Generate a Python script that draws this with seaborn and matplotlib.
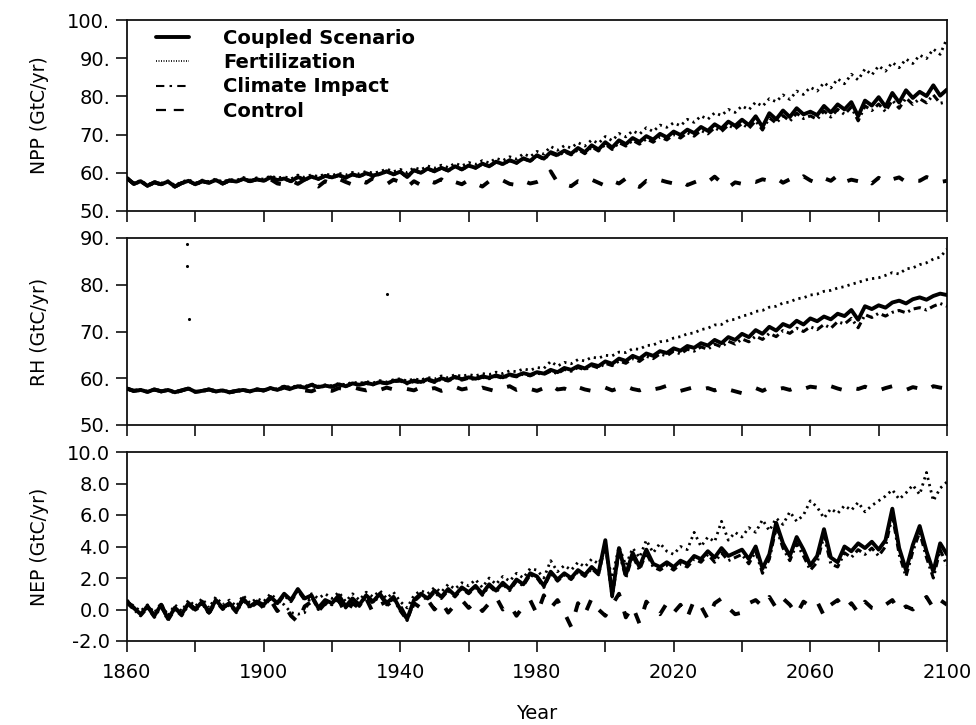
import matplotlib
matplotlib.use("Agg")
import matplotlib.pyplot as plt
from matplotlib.lines import Line2D
import pandas as pd
import seaborn as sns

years = list(range(1860, 2101, 2))

# ---------------- NPP (GtC/yr) ----------------
npp_coupled = [
    58.6, 57.1, 57.8, 56.6, 57.5, 57.0, 57.7, 56.4, 57.3, 57.9,
    57.0, 57.8, 57.4, 58.1, 57.2, 58.0, 57.7, 58.4, 57.8, 58.3,
    57.9, 58.8, 58.1, 58.5, 57.8, 58.9, 58.2, 59.0, 58.4, 59.2,
    58.8, 59.4, 58.7, 59.6, 59.1, 59.9, 59.3, 59.7, 60.4, 59.6,
    60.3, 58.9, 60.7, 60.0, 61.1, 60.4, 61.3, 60.6, 61.7, 60.9,
    61.9, 61.3, 62.4, 61.7, 62.9, 62.3, 63.3, 62.6, 63.8, 63.1,
    64.6, 63.7, 65.4, 64.7, 65.8, 65.0, 66.5, 65.4, 67.2, 66.1,
    68.0, 66.6, 68.5, 67.5, 69.1, 68.1, 69.6, 68.7, 70.2, 69.3,
    70.8, 69.9, 71.3, 70.4, 72.0, 71.0, 72.7, 71.6, 73.4, 72.3,
    73.9, 72.5, 74.8, 72.0, 75.6, 74.0, 76.3, 74.6, 76.9, 75.3,
    76.0, 75.1, 77.5, 75.8, 77.9, 76.6, 78.5, 74.8, 78.9, 77.6,
    79.8, 77.3, 80.9, 78.4, 81.6, 79.6, 81.2, 80.1, 82.9, 80.2,
    81.8]
npp_fert = [
    58.7, 57.3, 58.0, 56.8, 57.7, 57.3, 57.9, 56.7, 57.6, 58.2,
    57.3, 58.1, 57.7, 58.4, 57.6, 58.3, 58.0, 58.8, 58.1, 58.7,
    58.3, 59.2, 58.6, 59.0, 58.4, 59.4, 58.8, 59.5, 59.0, 59.7,
    59.3, 59.9, 59.4, 60.1, 59.7, 60.4, 59.9, 60.3, 61.0, 60.3,
    60.9, 60.0, 61.4, 60.8, 61.8, 61.2, 62.0, 61.4, 62.5, 61.8,
    62.7, 62.2, 63.2, 62.6, 63.8, 63.2, 64.2, 63.6, 65.0, 64.2,
    65.6, 64.9, 66.9, 65.9, 67.1, 66.5, 67.9, 67.0, 68.6, 67.7,
    69.5, 68.4, 70.3, 69.4, 71.0, 70.1, 71.8, 70.8, 72.5, 71.9,
    73.1, 72.3, 74.0, 73.2, 74.9, 74.0, 75.7, 75.0, 76.6, 75.8,
    77.5, 76.5, 78.5, 77.4, 79.4, 78.6, 80.4, 79.2, 81.4, 80.5,
    82.4, 81.4, 83.6, 82.2, 84.6, 83.3, 85.8, 84.3, 87.2, 85.6,
    88.0, 86.6, 88.9, 87.5, 89.8, 88.6, 90.8, 89.9, 92.4, 91.0,
    95.2]
npp_climate = [
    58.5, 57.0, 57.7, 56.5, 57.4, 56.9, 57.6, 56.3, 57.2, 57.8,
    56.9, 57.7, 57.3, 58.0, 57.1, 57.9, 57.6, 58.3, 57.7, 58.2,
    57.8, 58.7, 58.0, 58.4, 57.7, 58.8, 58.1, 58.9, 58.3, 59.1,
    58.7, 59.3, 58.6, 59.5, 59.0, 59.8, 59.2, 59.6, 60.3, 59.5,
    60.2, 58.8, 60.6, 59.9, 61.0, 60.3, 61.2, 60.5, 61.6, 60.8,
    61.8, 61.2, 62.3, 61.6, 62.8, 62.2, 63.2, 62.5, 63.7, 63.0,
    64.4, 63.5, 65.1, 64.4, 65.5, 64.7, 66.1, 65.0, 66.8, 65.7,
    67.5, 66.1, 67.9, 67.0, 68.5, 67.5, 68.9, 68.0, 69.4, 68.6,
    70.0, 69.1, 70.5, 69.6, 71.1, 70.2, 71.8, 70.8, 72.5, 71.5,
    72.9, 71.6, 73.6, 71.2, 74.4, 73.0, 75.0, 73.5, 75.6, 74.2,
    74.9, 74.0, 76.2, 74.6, 76.6, 75.3, 77.2, 73.6, 77.5, 76.3,
    78.0, 76.0, 79.0, 76.9, 79.6, 77.9, 79.4, 78.3, 80.4, 78.2,
    78.6]
npp_control = [
    58.6, 57.1, 57.8, 56.6, 57.5, 57.0, 57.7, 56.4, 57.3, 57.9,
    57.0, 57.8, 57.4, 58.1, 57.2, 58.0, 57.7, 58.4, 57.8, 58.3,
    57.5, 58.3, 57.2, 56.9, 58.0, 57.1, 58.2, 57.3, 56.4, 57.8,
    57.2, 58.4, 57.6, 56.9, 58.0, 57.4, 58.6, 57.5, 57.0, 58.2,
    57.6, 56.3, 57.8, 56.8, 58.0, 57.4, 58.3, 56.9, 57.6, 57.0,
    58.1, 57.2, 56.4, 57.8, 57.3, 58.0, 57.1, 56.8, 57.9, 57.2,
    57.6, 58.4, 60.4, 57.5, 57.0, 56.5, 57.8, 57.3, 58.2, 57.4,
    56.6, 57.9, 57.2, 58.5, 57.0, 56.3, 57.9, 57.4, 58.1, 57.6,
    57.2, 57.9, 56.8, 57.5, 58.2, 57.6, 59.0, 57.4, 56.2, 57.5,
    57.1, 58.0, 57.6, 58.3, 57.9, 58.6, 57.4, 58.3, 57.8, 59.1,
    58.0, 57.3, 58.6, 57.9, 59.3, 57.6, 58.2, 57.8, 58.5, 57.2,
    58.7, 57.5, 58.3, 58.8, 57.6, 58.0, 57.9, 58.9, 58.2, 57.6,
    57.9]

# ---------------- RH (GtC/yr) ----------------
rh_coupled = [
    57.8, 57.3, 57.5, 57.1, 57.6, 57.2, 57.5, 57.0, 57.4, 57.8,
    57.1, 57.3, 57.6, 57.2, 57.4, 57.0, 57.3, 57.5, 57.2, 57.6,
    57.4, 57.9, 57.5, 58.2, 57.8, 58.3, 58.0, 58.6, 58.1, 58.4,
    58.2, 58.7, 58.3, 58.9, 58.6, 59.0, 58.7, 59.2, 58.9, 59.4,
    59.6, 59.0, 59.5, 59.2, 59.8, 59.3, 60.0, 59.6, 60.3, 59.8,
    60.2, 59.9, 60.4, 60.1, 60.6, 60.2, 60.8, 60.5, 61.1, 60.7,
    61.3, 61.0, 61.8, 61.3, 62.2, 61.8, 62.6, 62.1, 63.0, 62.6,
    63.6, 63.1, 64.2, 63.7, 64.8, 64.2, 65.3, 64.8, 65.8, 65.4,
    66.4, 65.9, 66.9, 66.5, 67.5, 67.0, 68.2, 67.5, 68.8, 68.2,
    69.5, 68.8, 70.3, 69.5, 71.0, 70.2, 71.6, 71.0, 72.3, 71.5,
    72.8, 72.2, 73.2, 72.6, 73.8, 73.3, 74.6, 72.5, 75.4, 74.8,
    75.6, 75.1, 76.2, 76.6, 76.0, 76.9, 77.3, 76.8, 77.6, 78.1,
    77.8]
rh_fert = [
    57.9, 57.4, 57.6, 57.2, 57.7, 57.3, 57.6, 57.1, 57.5, 57.9,
    57.2, 57.4, 57.7, 57.3, 57.5, 57.1, 57.4, 57.6, 57.3, 57.7,
    57.5, 58.0, 57.7, 58.4, 58.0, 58.5, 58.2, 58.8, 58.3, 58.6,
    58.4, 58.9, 58.6, 59.2, 58.9, 59.3, 59.0, 59.5, 59.2, 59.7,
    59.9, 59.4, 59.9, 59.6, 60.2, 59.8, 60.5, 60.1, 60.8, 60.4,
    60.8, 60.5, 61.0, 60.8, 61.3, 61.0, 61.6, 61.4, 62.0, 61.7,
    62.3, 62.1, 63.6, 62.6, 63.4, 63.1, 64.0, 63.7, 64.5, 64.3,
    64.9, 64.8, 65.6, 65.5, 66.3, 66.2, 67.0, 67.1, 67.8, 68.0,
    68.6, 68.9, 69.5, 69.7, 70.4, 70.7, 71.4, 71.5, 72.4, 72.6,
    73.3, 73.6, 74.3, 74.5, 75.2, 75.4, 76.1, 76.3, 77.0, 77.2,
    77.8, 78.0, 78.6, 78.8, 79.3, 79.6, 80.1, 80.5, 81.0, 81.3,
    81.5, 82.0, 82.6, 82.3, 83.4, 83.6, 84.3, 84.7, 85.5, 85.9,
    87.6]
rh_climate = [
    57.7, 57.2, 57.4, 57.0, 57.5, 57.1, 57.4, 56.9, 57.3, 57.7,
    57.0, 57.2, 57.5, 57.1, 57.3, 56.9, 57.2, 57.4, 57.1, 57.5,
    57.3, 57.8, 57.4, 58.1, 57.7, 58.2, 57.9, 58.5, 58.0, 58.3,
    58.1, 58.6, 58.2, 58.8, 58.5, 58.9, 58.6, 59.1, 58.8, 59.3,
    59.4, 58.8, 59.3, 59.0, 59.6, 59.1, 59.8, 59.4, 60.1, 59.6,
    60.0, 59.7, 60.2, 59.9, 60.4, 60.0, 60.6, 60.3, 60.9, 60.5,
    61.1, 60.8, 61.5, 61.0, 61.9, 61.5, 62.3, 61.8, 62.7, 62.2,
    63.2, 62.7, 63.7, 63.2, 64.2, 63.6, 64.7, 64.2, 65.2, 64.8,
    65.8, 65.2, 66.2, 65.8, 66.7, 66.2, 67.3, 66.7, 67.9, 67.3,
    68.4, 67.8, 69.0, 68.3, 69.6, 68.9, 70.2, 69.6, 70.7, 70.0,
    71.0, 70.4, 71.5, 70.7, 72.1, 71.6, 72.8, 70.8, 73.6, 73.0,
    73.9, 73.3, 74.1, 74.5, 74.0, 74.8, 75.1, 74.6, 75.4, 76.0,
    75.4]
rh_control = [
    57.8, 57.3, 57.5, 57.1, 57.6, 57.2, 57.5, 57.0, 57.4, 57.8,
    57.1, 57.3, 57.6, 57.2, 57.4, 57.0, 57.3, 57.5, 57.2, 57.6,
    57.4, 57.9, 57.5, 58.0, 57.6, 56.9, 57.4, 57.2, 57.8, 57.5,
    57.3, 57.9, 57.6, 58.1, 57.7, 57.4, 57.9, 57.5, 58.0, 57.6,
    58.0, 57.7, 57.4, 58.1, 57.6, 57.9, 57.3, 57.8, 58.2, 57.6,
    57.9, 57.4, 58.0, 57.6, 57.2, 57.9, 58.3, 57.5, 58.0, 57.7,
    57.3, 57.9, 58.6, 57.6, 57.8, 57.2, 58.1, 57.6, 57.3, 57.9,
    58.0, 57.4, 57.9, 58.3, 57.7, 57.4, 58.0, 57.6, 57.9, 58.4,
    57.8, 57.3, 57.7, 58.1, 57.6, 57.9, 57.4, 58.0, 57.6, 57.2,
    56.8, 57.5, 57.9, 57.3, 58.0, 57.6, 57.9, 57.5, 58.1, 57.7,
    58.2, 58.0, 57.6, 58.3, 57.8, 57.4, 58.0, 57.7, 58.2, 57.6,
    57.4, 57.9, 58.3, 57.7, 57.5, 58.1, 57.8, 57.4, 58.3, 58.0,
    57.8]

# ---------------- NEP (GtC/yr) ----------------
nep_coupled = [
    0.5, 0.1, -0.3, 0.2, -0.4, 0.3, -0.6, 0.1, -0.3, 0.4,
    0.0, 0.5, -0.2, 0.6, 0.1, 0.4, -0.1, 0.7, 0.2, 0.5,
    0.3, 0.8, 0.4, 1.0, 0.6, 1.3, 0.7, 0.9, 0.1, 0.6,
    0.4, 0.9, 0.2, 0.7, 0.3, 0.9, 0.5, 1.0, 0.4, 0.8,
    0.0, -0.6, 0.6, 1.0, 0.7, 1.2, 0.8, 1.3, 0.9, 1.4,
    1.1, 1.5, 1.0, 1.6, 1.2, 1.7, 1.3, 1.9, 1.6, 2.3,
    2.1, 1.5, 2.4, 1.9, 2.3, 2.0, 2.5, 2.2, 2.7, 2.3,
    4.4, 0.9, 3.9, 2.2, 3.6, 2.7, 3.8, 2.9, 2.7, 3.0,
    2.7, 3.1, 2.9, 3.4, 3.2, 3.7, 3.3, 3.9, 3.4, 3.6,
    3.8, 3.2, 4.0, 2.6, 3.5, 5.5, 4.2, 3.4, 4.6, 3.8,
    2.8, 3.4, 5.1, 3.3, 3.0, 4.0, 3.7, 4.2, 3.9, 4.3,
    3.8, 4.4, 6.4, 3.9, 2.5, 4.1, 5.3, 3.7, 2.4, 4.2,
    3.5]
nep_fert = [
    0.6, 0.2, -0.1, 0.3, -0.2, 0.4, -0.4, 0.3, -0.1, 0.6,
    0.2, 0.7, 0.1, 0.8, 0.3, 0.6, 0.2, 0.9, 0.4, 0.7,
    0.5, 1.0, 0.6, 0.3, -0.2, -0.3, -0.2, 1.0, 0.7, 1.0,
    0.7, 1.1, 0.5, 1.0, 0.6, 1.1, 0.8, 1.2, 0.7, 1.1,
    0.5, 0.1, 0.9, 1.2, 1.0, 1.4, 1.1, 1.6, 1.3, 1.7,
    1.5, 1.9, 1.4, 2.0, 1.6, 2.1, 1.8, 2.3, 2.0, 2.6,
    2.5, 2.0, 3.1, 2.4, 2.8, 2.5, 3.0, 2.7, 3.2, 2.9,
    3.8, 2.0, 4.0, 2.8, 3.9, 3.3, 4.4, 3.6, 4.2, 3.7,
    3.5, 4.0, 3.8, 4.9, 4.0, 4.6, 4.3, 5.6, 4.4, 4.9,
    4.6, 5.2, 4.9, 5.7, 5.0, 5.8, 5.4, 6.2, 5.6, 6.0,
    6.9, 6.5, 5.8, 6.4, 6.1, 6.6, 6.3, 6.8, 6.2, 6.6,
    6.9, 7.2, 7.6, 7.0, 7.4, 7.9, 7.3, 8.7, 6.9, 7.7,
    8.1]
nep_climate = [
    0.4, 0.0, -0.4, 0.1, -0.5, 0.2, -0.7, 0.0, -0.4, 0.3,
    -0.1, 0.4, -0.3, 0.5, 0.0, 0.3, -0.2, 0.6, 0.1, 0.4,
    0.2, 0.7, 0.3, 0.9, 0.5, 1.2, 0.6, 0.8, 0.0, 0.5,
    0.3, 0.8, 0.1, 0.6, 0.2, 0.8, 0.4, 0.9, 0.3, 0.7,
    -0.1, -0.7, 0.5, 0.9, 0.6, 1.1, 0.7, 1.2, 0.8, 1.3,
    1.0, 1.4, 0.9, 1.5, 1.1, 1.6, 1.2, 1.8, 1.5, 2.2,
    2.0, 1.4, 2.3, 1.8, 2.2, 1.9, 2.4, 2.1, 2.6, 2.2,
    4.2, 0.8, 3.7, 2.0, 3.4, 2.5, 3.6, 2.7, 2.5, 2.8,
    2.5, 2.9, 2.7, 3.2, 3.0, 3.5, 3.0, 3.6, 3.1, 3.3,
    3.5, 2.9, 3.7, 2.3, 3.2, 5.2, 3.9, 3.1, 4.2, 3.4,
    2.5, 3.0, 4.7, 2.9, 2.7, 3.6, 3.3, 3.8, 3.5, 3.9,
    3.4, 4.0, 6.0, 3.5, 2.1, 3.7, 4.9, 3.3, 2.0, 3.8,
    2.8]
nep_control = [
    0.5, 0.1, -0.3, 0.2, -0.4, 0.3, -0.6, 0.1, -0.3, 0.4,
    0.0, 0.5, -0.2, 0.6, 0.1, 0.4, -0.1, 0.7, 0.2, 0.5,
    0.1, 0.6, -0.1, 0.3, -0.4, -0.8, 0.2, 0.5, -0.1, 0.4,
    0.0, 0.6, -0.3, 0.4, 0.1, 0.7, -0.2, 0.3, 0.5, -0.1,
    0.2, -0.6, 0.4, 0.1, 0.6, 0.0, 0.5, -0.2, 0.3, 0.6,
    0.1, 0.5, -0.1, 0.4, 0.8, 0.0, 0.3, -0.4, 0.2, 0.6,
    -0.3, 0.9, 0.1, 0.6, -0.2, -1.1, 0.4, -0.3, 0.7, 0.0,
    -0.4, 0.3, 1.0, -0.5, 0.2, -0.9, 0.5, 0.0, -0.3, 0.4,
    -0.2, 0.3, -0.5, 0.6, 0.2, -0.6, 0.4, 0.7, 0.1, -0.3,
    -0.2, 0.4, 0.6, 0.2, 0.8, 0.1, 0.7, 0.3, -0.3, 0.5,
    0.2, 0.5, -0.4, 0.3, 0.6, 0.0, 0.4, -0.2, 0.5, 0.1,
    0.0, 0.3, 0.6, -0.1, 0.2, 0.0, 0.4, 0.8, 0.1, 0.6,
    0.3]

series_names = ["Coupled Scenario", "Fertilization", "Climate Impact", "Control"]

panels = [
    ("NPP", "NPP (GtC/yr)", [npp_coupled, npp_fert, npp_climate, npp_control],
     [50, 60, 70, 80, 90, 100], ["50.", "60.", "70.", "80.", "90.", "100."]),
    ("RH", "RH (GtC/yr)", [rh_coupled, rh_fert, rh_climate, rh_control],
     [50, 60, 70, 80, 90], ["50.", "60.", "70.", "80.", "90."]),
    ("NEP", "NEP (GtC/yr)", [nep_coupled, nep_fert, nep_climate, nep_control],
     [-2, 0, 2, 4, 6, 8, 10], ["-2.0", "0.0", "2.0", "4.0", "6.0", "8.0", "10.0"]),
]

xticks = list(range(1860, 2101, 20))
xticklabels = ["1860", "", "1900", "", "1940", "", "1980", "", "2020", "", "2060", "", "2100"]

sns.set_theme(style="ticks")
plt.rcParams["font.family"] = ["DejaVu Sans"]
plt.rcParams["text.color"] = "black"
plt.rcParams["axes.labelcolor"] = "black"
plt.rcParams["xtick.color"] = "black"
plt.rcParams["ytick.color"] = "black"

styles = {
    "Coupled Scenario": dict(linestyle="-", linewidth=2.8, zorder=5),
    "Fertilization": dict(linestyle=(0, (0.8, 1.5)), linewidth=2.0, zorder=3),
    "Climate Impact": dict(linestyle=(0, (2.4, 1.3, 0.7, 1.3)), linewidth=2.2, zorder=4),
    "Control": dict(linestyle=(0, (2.8, 4.0)), linewidth=2.8, zorder=2),
}

fig = plt.figure(figsize=(9.76, 7.25), dpi=100)
W, H = 976.0, 725.0
boxes = [(20, 211), (238, 425), (452, 641)]
L, R = 127, 947

axes = []
for (top, bot), (key, ylabel, data, yt, ytl) in zip(boxes, panels):
    ax = fig.add_axes([L / W, 1 - bot / H, (R - L) / W, (bot - top) / H])
    axes.append(ax)
    df = pd.DataFrame({"Year": years})
    draw_order = ["Fertilization", "Control", "Climate Impact", "Coupled Scenario"]
    for name, vals in zip(series_names, data):
        df[name] = vals
    for name in draw_order:
        st = styles[name]
        sns.lineplot(data=df, x="Year", y=name, ax=ax, color="black",
                     linestyle=st["linestyle"], linewidth=st["linewidth"],
                     zorder=st["zorder"], legend=False)
    ax.set_xlim(1860, 2100)
    ax.set_ylim(yt[0], yt[-1])
    ax.set_yticks(yt)
    ax.set_yticklabels(ytl)
    ax.set_xticks(xticks)
    ax.set_ylabel(ylabel, fontsize=13.5, color="black")
    ax.yaxis.set_label_coords(-0.095, 0.5)
    ax.set_xlabel("")
    for sp in ax.spines.values():
        sp.set_visible(True)
        sp.set_linewidth(1.3)
        sp.set_color("#111111")
    ax.tick_params(axis="both", direction="out", length=8, width=1.2,
                   color="#111111", labelcolor="black", labelsize=14, pad=4,
                   top=False, right=False)
    ax.set_facecolor("white")

for ax in axes[:2]:
    ax.set_xticklabels([])
axes[2].set_xticklabels(xticklabels)
axes[2].tick_params(axis="x", pad=8)
axes[2].set_xlabel("Year", fontsize=14, color="black")
axes[2].xaxis.set_label_coords(0.5, -0.335)

# stray specks in middle panel of the reference
speck_x = [1877.6, 1877.6, 1878.2, 1936.1]
speck_y = [88.7, 84.0, 72.7, 78.0]
axes[1].scatter(speck_x, speck_y, s=1.5, color="black", zorder=6)

handles = [
    Line2D([], [], color="black", linestyle="-", linewidth=2.8),
    Line2D([], [], color="black", linestyle=(0, (0.6, 0.9)), linewidth=1.2),
    Line2D([], [], color="black", linestyle=(0, (4, 2.5, 1.2, 2.5)), linewidth=1.5),
    Line2D([], [], color="black", linestyle=(0, (4.5, 3.5)), linewidth=1.6),
]
leg = axes[0].legend(handles, series_names, loc="upper left",
                     bbox_to_anchor=(0.035, 0.955), frameon=False,
                     prop={"weight": "bold", "size": 14},
                     handlelength=1.7, handletextpad=1.75, labelspacing=0.28,
                     borderpad=0.0, borderaxespad=0.0)
for t in leg.get_texts():
    t.set_color("black")

fig.savefig("out.png", dpi=100, facecolor="white")
